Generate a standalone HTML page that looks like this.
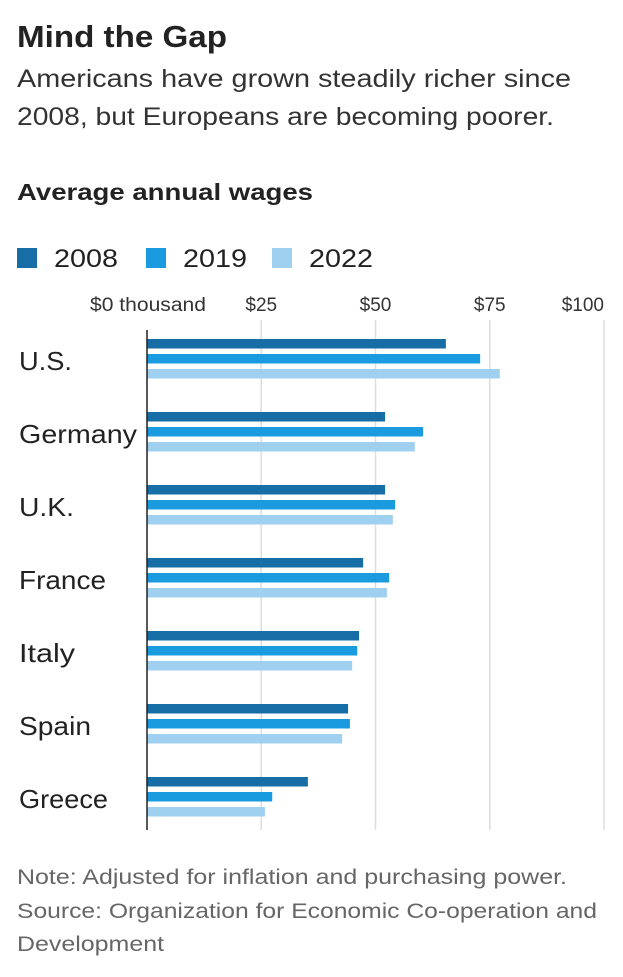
<!DOCTYPE html>
<html><head><meta charset="utf-8"><style>
body{margin:0;width:623px;height:972px;background:#fff;font-family:"Liberation Sans",sans-serif;overflow:hidden}
</style></head><body>
<svg width="623" height="972" xmlns="http://www.w3.org/2000/svg" id="chart">
<text x="17" y="47" font-size="31" font-weight="bold" fill="#222" textLength="210" lengthAdjust="spacingAndGlyphs">Mind the Gap</text>
<text x="17" y="87" font-size="25" fill="#333" textLength="554" lengthAdjust="spacingAndGlyphs">Americans have grown steadily richer since</text>
<text x="17" y="125" font-size="25" fill="#333" textLength="537" lengthAdjust="spacingAndGlyphs">2008, but Europeans are becoming poorer.</text>
<text x="17" y="200" font-size="23" font-weight="bold" fill="#222" textLength="296" lengthAdjust="spacingAndGlyphs">Average annual wages</text>
<g id="legend"></g>
<g id="grid"></g>
<g id="bars"></g>
<g id="labels"></g>
<line x1="147" y1="330" x2="147" y2="830" stroke="#222" stroke-width="1.5"/>
<text x="17" y="884" font-size="21" fill="#666" textLength="550" lengthAdjust="spacingAndGlyphs">Note: Adjusted for inflation and purchasing power.</text>
<text x="17" y="918" font-size="21" fill="#666" textLength="580" lengthAdjust="spacingAndGlyphs">Source: Organization for Economic Co-operation and</text>
<text x="17" y="951" font-size="21" fill="#666" textLength="147" lengthAdjust="spacingAndGlyphs">Development</text>
</svg>
<script>
const categories=["U.S.","Germany","U.K.","France","Italy","Spain","Greece"];
const seriesNames=["2008","2019","2022"];
const v2008=[65.4,52.1,52.1,47.3,46.4,44.0,35.2];
const v2019=[72.9,60.4,54.3,53.0,46.0,44.4,27.4];
const v2022=[77.2,58.6,53.8,52.5,44.9,42.7,25.8];
const ticks=[0,25,50,75,100];
const tickLabels=["$0 thousand","$25","$50","$75","$100"];
const colors=["#176ea6","#1a9be0","#9fd0f0"];
const labelWidths={"U.S.":53,"Germany":118,"U.K.":55,"France":87,"Italy":56,"Spain":72,"Greece":89};
const NS="http://www.w3.org/2000/svg";
const x=v=>147+v*4.57;
const yGroup=i=>339+i*73;
function mk(tag,attrs,parent){const e=document.createElementNS(NS,tag);for(const k in attrs)e.setAttribute(k,attrs[k]);parent.appendChild(e);return e;}
const grid=document.getElementById('grid');
ticks.forEach((t,i)=>{
  if(i>0){const l=mk('line',{x1:x(t),x2:x(t),y1:320,y2:830,stroke:'#ddd','stroke-width':1.5},grid);
  
  }
  const tx=mk('text',{x:x(t),y:311,'font-size':19,fill:'#333','text-anchor':i==0?'start':(i==4?'end':'middle')},grid);
  if(i==0){tx.setAttribute('x',90);tx.setAttribute('textLength',116);tx.setAttribute('lengthAdjust','spacingAndGlyphs');}
  tx.textContent=tickLabels[i];
  
  
});
const legend=document.getElementById('legend');
const lx=[17,146,272];
seriesNames.forEach((s,i)=>{
  const r=mk('rect',{x:lx[i],y:248,width:20,height:20,fill:colors[i]},legend);
  
  
  const t=mk('text',{x:lx[i]+37,y:267,'font-size':25,fill:'#222',textLength:64,lengthAdjust:'spacingAndGlyphs'},legend);
  t.textContent=s;
  
  
});
const bars=document.getElementById('bars');
const labels=document.getElementById('labels');
const series=[v2008,v2019,v2022];
categories.forEach((c,i)=>{
  series.forEach((vals,j)=>{
    const r=mk('rect',{x:147,y:yGroup(i)+j*15,width:x(vals[i])-147,height:9.5,fill:colors[j]},bars);
    
    
  });
  const t=mk('text',{x:19,y:yGroup(i)+31,'font-size':26,fill:'#222',textLength:labelWidths[c]||60,lengthAdjust:'spacingAndGlyphs'},labels);
  t.textContent=c;
  
  
});
</script>
</body></html>
